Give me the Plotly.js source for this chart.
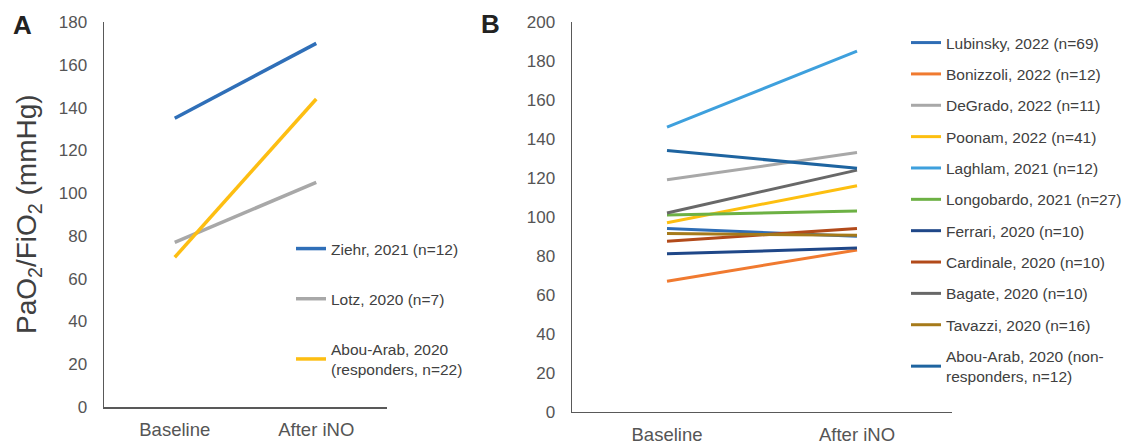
<!DOCTYPE html>
<html>
<head>
<meta charset="utf-8">
<script src="https://cdn.plot.ly/plotly-3.0.1.min.js"></script>
<style>html,body{margin:0;padding:0;background:#fff;}#chart{width:1127px;height:447px;}</style>
</head>
<body>
<div id="chart"></div>
<script>
var categories = ['Baseline', 'After iNO'];

// Panel A
var seriesA_names = ['Ziehr, 2021 (n=12)', 'Lotz, 2020 (n=7)', 'Abou-Arab, 2020<br>(responders, n=22)'];
var ziehr = [135, 170];
var lotz = [77, 105];
var abouArabResponders = [70, 144];

// Panel B
var seriesB_names = ['Lubinsky, 2022 (n=69)', 'Bonizzoli, 2022 (n=12)', 'DeGrado, 2022 (n=11)', 'Poonam, 2022 (n=41)',
  'Laghlam, 2021 (n=12)', 'Longobardo, 2021 (n=27)', 'Ferrari, 2020 (n=10)', 'Cardinale, 2020 (n=10)',
  'Bagate, 2020 (n=10)', 'Tavazzi, 2020 (n=16)', 'Abou-Arab, 2020 (non-<br>responders, n=12)'];
var lubinsky = [94, 90];
var bonizzoli = [67, 83];
var degrado = [119, 133];
var poonam = [97, 116];
var laghlam = [146, 185];
var longobardo = [101, 103];
var ferrari = [81, 84];
var cardinale = [87.5, 94];
var bagate = [102, 124];
var tavazzi = [91.5, 90.5];
var abouArabNonResponders = [134, 125];

var colorsA = ['#2f6fb8', '#a8a8a8', '#fdbe12'];
var colorsB = ['#2f6db5', '#f07a30', '#a8a8a8', '#fdbf10', '#3ea0dd', '#6db144', '#1f4788', '#b24a1a', '#686868', '#a67a1a', '#1e64a0'];

var dataA = [ziehr, lotz, abouArabResponders];
var dataB = [lubinsky, bonizzoli, degrado, poonam, laghlam, longobardo, ferrari, cardinale, bagate, tavazzi, abouArabNonResponders];

var traces = [];
dataA.forEach(function (vals, i) {
  traces.push({
    x: categories, y: vals, type: 'scatter', mode: 'lines',
    name: seriesA_names[i], line: {color: colorsA[i], width: 3.5},
    xaxis: 'x', yaxis: 'y', legend: 'legend', legendgroup: 'a' + i
  });
});
dataB.forEach(function (vals, i) {
  traces.push({
    x: categories, y: vals, type: 'scatter', mode: 'lines',
    name: seriesB_names[i], line: {color: colorsB[i], width: 3},
    xaxis: 'x2', yaxis: 'y2', legend: 'legend2', legendgroup: 'b' + i
  });
});

var tickColor = '#555555';
var fontFam = 'Liberation Sans, Arial, sans-serif';

function yax(range, dtick, anchor, domain) {
  return {
    range: range, dtick: dtick, tick0: 0, showgrid: false, zeroline: false,
    showline: true, linecolor: '#595959', linewidth: 1.5, ticks: '',
    ticklabelstandoff: 12,
    tickfont: {family: fontFam, size: 17, color: tickColor},
    anchor: anchor, domain: domain, fixedrange: true
  };
}
function xax(domain, anchor, standoff) {
  return {
    type: 'category', range: [-0.5, 1.5], domain: domain, anchor: anchor,
    showgrid: false, zeroline: false, showline: true, linecolor: '#595959', linewidth: 1.5,
    ticks: '', ticklabelstandoff: standoff,
    tickfont: {family: fontFam, size: 18.5, color: tickColor}, fixedrange: true
  };
}

var layout = {
  width: 1127, height: 447,
  margin: {l: 0, r: 0, t: 0, b: 0},
  paper_bgcolor: '#ffffff', plot_bgcolor: '#ffffff',
  showlegend: true,
  xaxis: xax([104 / 1127, 387 / 1127], 'y', 5),
  yaxis: yax([0, 180], 20, 'x', [1 - 407 / 447, 1 - 22 / 447]),
  xaxis2: xax([572 / 1127, 952 / 1127], 'y2', 6),
  yaxis2: yax([0, 200], 20, 'x2', [1 - 411.7 / 447, 1 - 22 / 447]),
  legend: {
    x: 291 / 1127, y: 1 - 232 / 447, xanchor: 'left', yanchor: 'top',
    traceorder: 'grouped', tracegroupgap: 27, bgcolor: 'rgba(0,0,0,0)',
    font: {family: fontFam, size: 15.5, color: '#404040'}, itemwidth: 30
  },
  legend2: {
    x: 906 / 1127, y: 1 - 26 / 447, xanchor: 'left', yanchor: 'top',
    traceorder: 'grouped', tracegroupgap: 8.2, bgcolor: 'rgba(0,0,0,0)',
    font: {family: fontFam, size: 15.5, color: '#404040'}, itemwidth: 30
  },
  annotations: [
    {text: '<b>A</b>', xref: 'paper', yref: 'paper', x: 23 / 1127, y: 1 - 25 / 447,
     xanchor: 'center', yanchor: 'middle', showarrow: false,
     font: {family: fontFam, size: 26, color: '#222222'}},
    {text: '<b>B</b>', xref: 'paper', yref: 'paper', x: 490 / 1127, y: 1 - 24 / 447,
     xanchor: 'center', yanchor: 'middle', showarrow: false,
     font: {family: fontFam, size: 26, color: '#222222'}},
    {text: 'PaO<sub>2</sub>/FiO<sub>2</sub> (mmHg)', xref: 'paper', yref: 'paper',
     x: 28 / 1127, y: 1 - 214 / 447, xanchor: 'center', yanchor: 'middle', textangle: -90,
     showarrow: false, font: {family: fontFam, size: 28, color: '#404040'}}
  ]
};

Plotly.newPlot('chart', traces, layout, {displayModeBar: false, staticPlot: true});
</script>
</body>
</html>
